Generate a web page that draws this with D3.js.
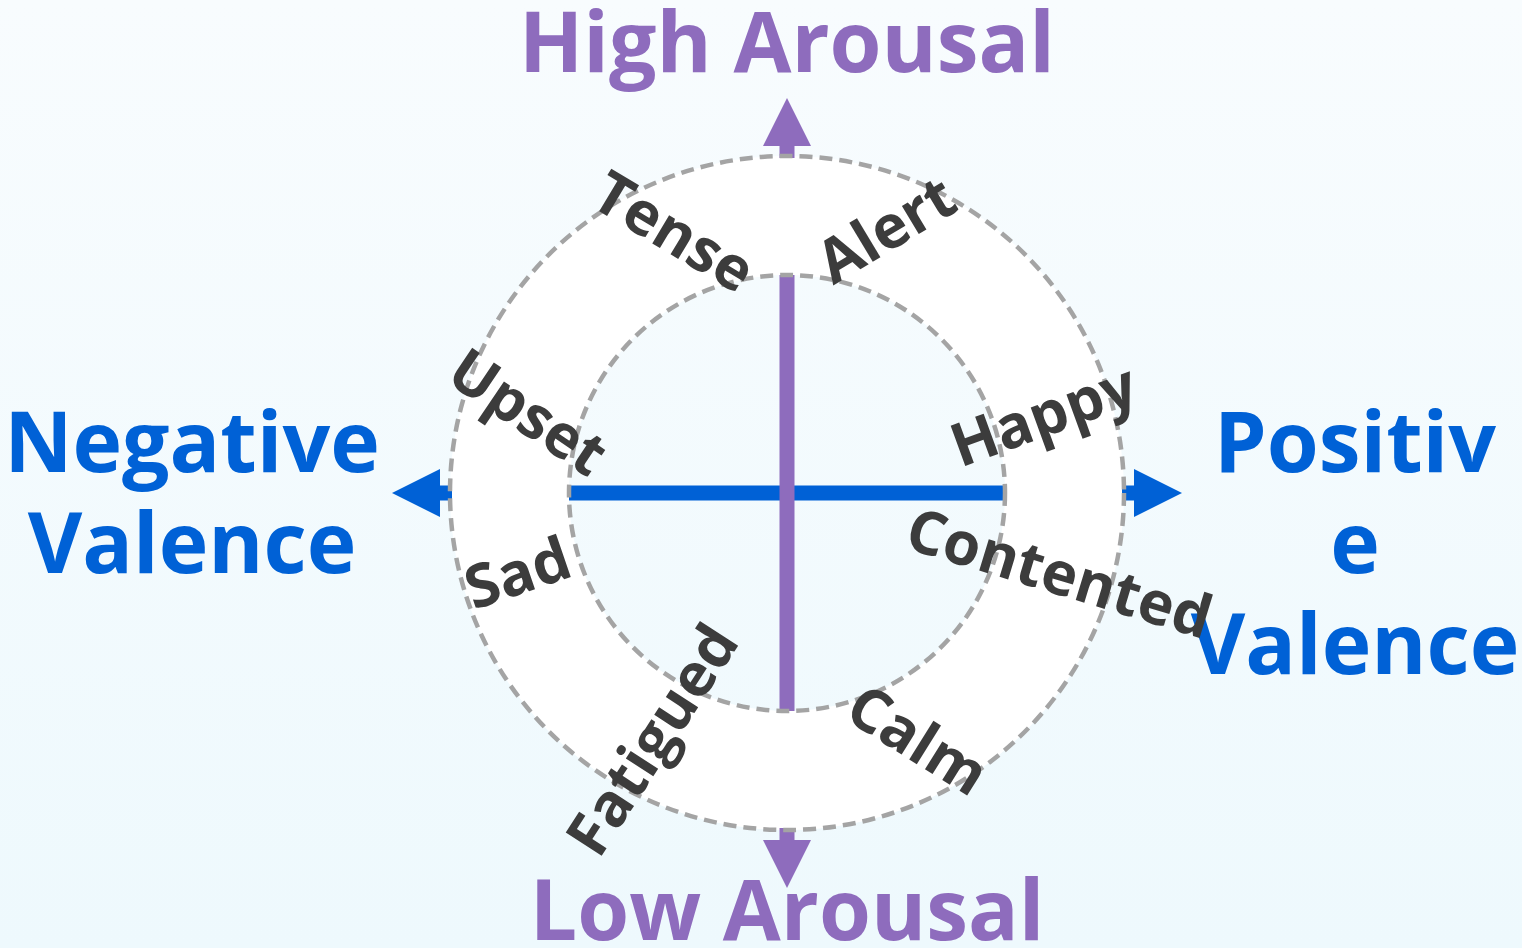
<!DOCTYPE html>
<html>
<head>
<meta charset="utf-8">
<script src="https://cdn.jsdelivr.net/npm/d3@7"></script>
<style>
  body { margin: 0; overflow: hidden; }
  svg { display: block; font-family: "Open Sans", sans-serif; font-weight: 700; }
</style>
</head>
<body>
<div id="chart"></div>
<script>
// Circumplex of affect: emotion words placed by their angle on the ring
const emotions = ['Alert', 'Happy', 'Contented', 'Calm', 'Fatigued', 'Sad', 'Upset', 'Tense'];
const emotionAngles = [69.5, 17, -16.3, -62, -118.8, 196.4, 162.5, 113.3];

// Axis titles (the right one wraps the way the original does)
const arousalTitles = ['High Arousal', 'Low Arousal'];
const negativeLines = ['Negative', 'Valence'];
const positiveLines = ['Positiv', 'e', 'Valence'];

// Layout, kept apart from the data
const width = 1522, height = 948;
const cx = 787, cy = 493;
const rInner = 218, rOuter = 337;
const labelRotation = [-31, -20, 17, 32, -57, -19, 34, 31];
const labelRadius = [282, 268, 284, 279, 281, 281, 271, 285];
const purple = '#8e6cbd', blue = '#0061d6', ink = '#3c3c3c', dash = '#a4a4a4';

const svg = d3.select('#chart').append('svg')
  .attr('width', width)
  .attr('height', height);

const defs = svg.append('defs');
const grad = defs.append('linearGradient')
  .attr('id', 'bg')
  .attr('x1', 0).attr('y1', 0).attr('x2', 0).attr('y2', 1);
grad.append('stop').attr('offset', '0%').attr('stop-color', '#f8fcfe');
grad.append('stop').attr('offset', '100%').attr('stop-color', '#eef9fd');

svg.append('rect')
  .attr('width', width)
  .attr('height', height)
  .attr('fill', 'url(#bg)');

// Value scales: valence runs left to right, arousal bottom to top
const x = d3.scaleLinear().domain([-1, 1]).range([cx - rInner, cx + rInner]);
const y = d3.scaleLinear().domain([-1, 1]).range([cy + rInner, cy - rInner]);
const r = d3.scaleLinear().domain([0, 1]).range([0, rInner]);

const g = svg.append('g');

// White ring between the two circles
g.append('path')
  .attr('transform', `translate(${cx},${cy})`)
  .attr('d', d3.arc()({ innerRadius: rInner, outerRadius: rOuter, startAngle: 0, endAngle: 2 * Math.PI }))
  .attr('fill', '#ffffff');

// Axes
g.append('line')
  .attr('x1', x(-1)).attr('x2', x(1))
  .attr('y1', y(0)).attr('y2', y(0))
  .attr('stroke', blue)
  .attr('stroke-width', 15);

g.append('line')
  .attr('x1', x(0)).attr('x2', x(0))
  .attr('y1', y(1)).attr('y2', y(-1))
  .attr('stroke', purple)
  .attr('stroke-width', 15);

// Arrows just outside the outer ring. rotation 0 points to the right.
const arrows = [
  { rot: -90, color: purple },
  { rot: 90, color: purple },
  { rot: 180, color: blue },
  { rot: 0, color: blue }
];
const stemEnd = rOuter + 10, tip = rOuter + 58, headHalf = 24, stemHalf = 7.5;
g.selectAll('.arrow')
  .data(arrows)
  .join('path')
    .attr('class', 'arrow')
    .attr('transform', (d) => `translate(${cx},${cy}) rotate(${d.rot})`)
    .attr('d', d3.line()([
      [rOuter - 2, -stemHalf], [stemEnd, -stemHalf], [stemEnd, -headHalf],
      [tip, 0], [stemEnd, headHalf], [stemEnd, stemHalf], [rOuter - 2, stemHalf]
    ]) + 'Z')
    .attr('fill', (d) => d.color);

// Dashed circles
g.selectAll('.ring')
  .data([rInner, rOuter])
  .join('circle')
    .attr('class', 'ring')
    .attr('cx', cx).attr('cy', cy)
    .attr('r', (d) => d)
    .attr('fill', 'none')
    .attr('stroke', dash)
    .attr('stroke-width', 4.5)
    .attr('stroke-dasharray', '13,7');

// Axis titles
g.selectAll('.arousal')
  .data(arousalTitles)
  .join('text')
    .attr('class', 'arousal')
    .attr('x', cx)
    .attr('y', (d, i) => i === 0 ? 72 : 940)
    .attr('text-anchor', 'middle')
    .attr('font-size', 84)
    .attr('fill', purple)
    .text((d) => d);

const valenceBlock = (lines, xPos) => {
  const t = g.append('text')
    .attr('text-anchor', 'middle')
    .attr('font-size', 84)
    .attr('fill', blue);
  t.selectAll('tspan')
    .data(lines)
    .join('tspan')
      .attr('x', xPos)
      .attr('y', (d, i) => 472 + i * 101)
      .text((d) => d);
};
valenceBlock(negativeLines, 192);
valenceBlock(positiveLines, 1355);

// Emotion words on the ring
g.selectAll('.emotion')
  .data(emotions)
  .join('text')
    .attr('class', 'emotion')
    .attr('transform', (d, i) => {
      const a = emotionAngles[i] * Math.PI / 180;
      const rr = r(labelRadius[i] / rInner);
      return `translate(${cx + rr * Math.cos(a)},${cy - rr * Math.sin(a)}) rotate(${labelRotation[i]})`;
    })
    .attr('text-anchor', 'middle')
    .attr('dy', '0.36em')
    .attr('font-size', 60)
    .attr('fill', ink)
    .text((d) => d);
</script>
</body>
</html>
